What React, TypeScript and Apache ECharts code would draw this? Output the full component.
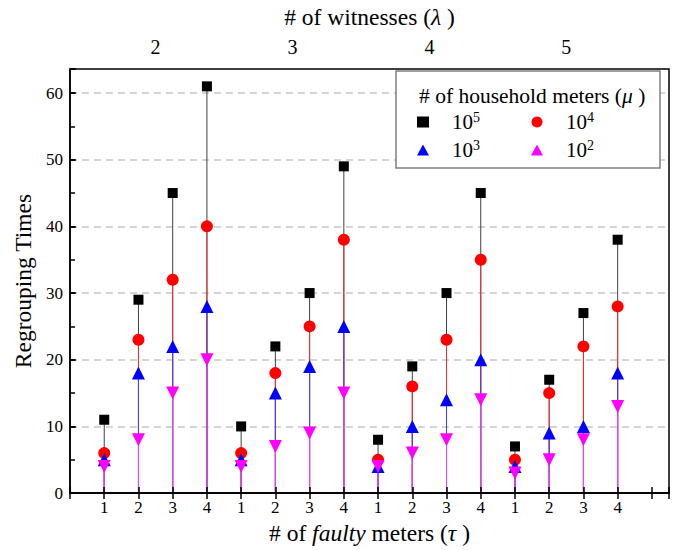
import React, { useEffect, useRef } from "react";
import * as echarts from "echarts";

// x positions of the 16 cases (4 groups of 4)
const positions = [1, 2, 3, 4, 5, 6, 7, 8, 9, 10, 11, 12, 13, 14, 15, 16];
// bottom tick labels: # of faulty meters (tau)
const faultyLabels = ["1", "2", "3", "4", "1", "2", "3", "4", "1", "2", "3", "4", "1", "2", "3", "4"];
// top labels: # of witnesses (lambda), one per group
const witnessLabels = ["2", "3", "4", "5"];
const witnessCenters = [2.5, 6.5, 10.5, 14.5];

// Regrouping times per household meter count (mu)
const mu1e5 = [11, 29, 45, 61, 10, 22, 30, 49, 8, 19, 30, 45, 7, 17, 27, 38];
const mu1e4 = [6, 23, 32, 40, 6, 18, 25, 38, 5, 16, 23, 35, 5, 15, 22, 28];
const mu1e3 = [5, 18, 22, 28, 5, 15, 19, 25, 4, 10, 14, 20, 4, 9, 10, 18];
const mu1e2 = [4, 8, 15, 20, 4, 7, 9, 15, 4, 6, 8, 14, 3, 5, 8, 13];

const seriesNames = ["1e5", "1e4", "1e3", "1e2"];
const seriesSup = ["5", "4", "3", "2"];

const FONT = "'Liberation Serif', 'Times New Roman', serif";

export default function App() {
  const ref = useRef<HTMLDivElement>(null);

  useEffect(() => {
    if (!ref.current) return;
    const chart = echarts.init(ref.current, undefined, { renderer: "svg" });

    const allValues = [mu1e5, mu1e4, mu1e3, mu1e2];
    const markerColors = ["#000000", "#ff0000", "#0000ff", "#ff00ff"];
    const stemColors = ["#404040", "#ff2a2a", "#4040ff", "#ff40ff"];
    const symbols = ["rect", "circle", "triangle", "triangle"];
    const symbolSizes = [10, 12, 13, 13];
    const rotates = [0, 0, 0, 180];

    const pairs = (vals: number[]) => positions.map((p, i) => [p, vals[i]]);

    const stems = allValues.map((vals, k) => ({
      type: "bar",
      name: "stem" + k,
      xAxisIndex: 0,
      yAxisIndex: 0,
      data: pairs(vals),
      barWidth: 1,
      barGap: "-100%",
      itemStyle: { color: stemColors[k] },
      silent: true,
      z: 2,
    }));

    const markers = allValues.map((vals, k) => ({
      type: "scatter",
      name: seriesNames[k],
      xAxisIndex: 0,
      yAxisIndex: 0,
      data: pairs(vals),
      symbol: symbols[k],
      symbolSize: symbolSizes[k],
      symbolRotate: rotates[k],
      itemStyle: { color: markerColors[k], opacity: 1 },
      z: 3 + k,
    }));

    const legendFormatter = (name: string) => {
      const idx = seriesNames.indexOf(name);
      return "10{s|" + seriesSup[idx] + "}";
    };
    const legendText = {
      fontFamily: FONT,
      fontSize: 21,
      color: "#000",
      lineHeight: 24,
      padding: [0, 0, 0, 18],
      rich: {
        s: { fontFamily: FONT, fontSize: 14, color: "#000", verticalAlign: "top", lineHeight: 14 },
      },
    };
    const legendItem = (k: number) => ({
      name: seriesNames[k],
      icon: symbols[k],
      symbolRotate: rotates[k],
    });

    const tickStyle = { color: "#000", width: 1.5 };
    const nameStyle = {
      fontFamily: FONT,
      fontSize: 23.5,
      color: "#000",
      rich: { i: { fontFamily: FONT, fontSize: 23.5, fontStyle: "italic", color: "#000" } },
    };

    const option: any = {
      animation: false,
      backgroundColor: "#fff",
      grid: {
        left: 70,
        right: 12,
        top: 65,
        bottom: 51,
        show: true,
        borderColor: "#000",
        borderWidth: 1.5,
        backgroundColor: "transparent",
      },
      title: {
        text: "# of household meters ({i|μ} )",
        left: 414,
        top: 80,
        z: 6,
        textStyle: {
          fontFamily: FONT,
          fontSize: 21.5,
          fontWeight: "normal",
          color: "#000",
          rich: {
            i: { fontFamily: FONT, fontSize: 21.5, fontStyle: "italic", color: "#000" },
          },
        },
      },
      legend: [
        {
          data: [legendItem(0), legendItem(2)],
          orient: "vertical",
          left: 417,
          top: 110,
          padding: 0,
          itemWidth: 12,
          itemHeight: 11,
          itemGap: 4,
          formatter: legendFormatter,
          textStyle: legendText,
          selectedMode: false,
        },
        {
          data: [legendItem(1), legendItem(3)],
          orient: "vertical",
          left: 531,
          top: 110,
          padding: 0,
          itemWidth: 12,
          itemHeight: 11,
          itemGap: 4,
          formatter: legendFormatter,
          textStyle: legendText,
          selectedMode: false,
        },
      ],
      graphic: [
        {
          type: "rect",
          z: 3,
          shape: { x: 396, y: 71, width: 264, height: 97 },
          style: { fill: "#fff", stroke: "#808080", lineWidth: 1.5 },
        },
      ],
      xAxis: [
        {
          type: "value",
          position: "bottom",
          min: 0,
          max: 17.5,
          interval: 1,
          z: 3,
          axisLine: { show: true, lineStyle: { color: "#000", width: 1.5 } },
          axisTick: { show: true, inside: true, length: 6, lineStyle: tickStyle },
          splitLine: { show: false },
          axisLabel: {
            margin: 6,
            fontFamily: FONT,
            fontSize: 17,
            color: "#000",
            formatter: (v: number) => {
              const i = positions.indexOf(v);
              return i >= 0 ? faultyLabels[i] : "";
            },
          },
          name: "# of {i|faulty} meters ({i|τ} )",
          nameLocation: "middle",
          nameGap: 24,
          nameTextStyle: nameStyle,
        },
        {
          type: "value",
          position: "top",
          min: 0,
          max: 17.5,
          interval: 1,
          z: 3,
          axisLine: { show: true, lineStyle: { color: "#000", width: 1.5 } },
          axisTick: { show: true, inside: true, length: 6, lineStyle: tickStyle },
          splitLine: { show: false },
          axisLabel: { show: false },
          name: "# of witnesses ({i|λ} )",
          nameLocation: "middle",
          nameGap: 40,
          nameTextStyle: nameStyle,
        },
        {
          type: "value",
          position: "top",
          min: 0,
          max: 17.5,
          interval: 0.5,
          axisLine: { show: false },
          axisTick: { show: false },
          splitLine: { show: false },
          axisLabel: {
            margin: 12,
            fontFamily: FONT,
            fontSize: 20,
            color: "#000",
            formatter: (v: number) => {
              const i = witnessCenters.findIndex((c) => Math.abs(c - v) < 1e-6);
              return i >= 0 ? witnessLabels[i] : "";
            },
          },
        },
      ],
      yAxis: [
        {
          type: "value",
          min: 0,
          max: 63.6,
          interval: 10,
          axisLine: { show: true, lineStyle: { color: "#000", width: 1.5 } },
          axisTick: { show: true, inside: true, length: 6, lineStyle: tickStyle },
          splitLine: {
            show: true,
            showMinLine: false,
            showMaxLine: false,
            lineStyle: { color: "#c8c8c8", width: 1.5, type: [7, 5] },
          },
          axisLabel: {
            margin: 7,
            fontFamily: FONT,
            fontSize: 17,
            color: "#000",
            formatter: (v: number) => (v % 10 === 0 ? String(v) : ""),
          },
          name: "Regrouping Times",
          nameLocation: "middle",
          nameGap: 23,
          nameTextStyle: nameStyle,
        },
        {
          type: "value",
          position: "left",
          min: 0,
          max: 63.6,
          interval: 5,
          axisLine: { show: false },
          axisTick: { show: true, inside: true, length: 5, lineStyle: tickStyle },
          splitLine: { show: false },
          axisLabel: { show: false },
        },
      ],
      series: [...stems, ...markers],
    };

    chart.setOption(option);
    return () => chart.dispose();
  }, []);

  return (
    <div
      ref={ref}
      style={{ position: "fixed", left: 0, top: 0, width: 681, height: 550, background: "#fff" }}
    />
  );
}
